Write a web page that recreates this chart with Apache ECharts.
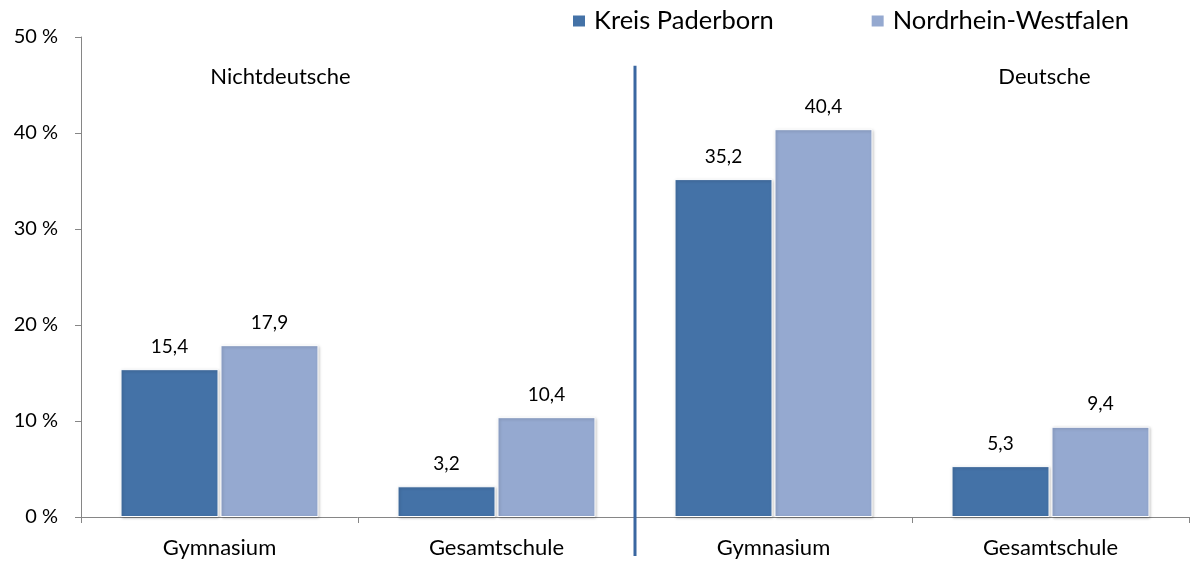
<!DOCTYPE html>
<html>
<head>
<meta charset="utf-8">
<script src="https://cdn.jsdelivr.net/npm/echarts@6/dist/echarts.min.js"></script>
<style>
  html, body { margin: 0; padding: 0; background: #fff; }
  #main { width: 1190px; height: 562px; }
</style>
</head>
<body>
<div id="main"></div>
<script>
// Daten
var categories = ['Gymnasium', 'Gesamtschule', 'Gymnasium', 'Gesamtschule'];
var groupNames = ['Nichtdeutsche', 'Deutsche'];
var seriesNames = ['Kreis Paderborn', 'Nordrhein-Westfalen'];
var paderborn = [15.4, 3.2, 35.2, 5.3];
var nrw = [17.9, 10.4, 40.4, 9.4];

var chart = echarts.init(document.getElementById('main'));
var font = 'Lato, "Open Sans", sans-serif';

function commaLabel(p) {
  return String(p.value.toFixed(1)).replace('.', ',');
}

var barStyle = function (color) {
  return {
    color: color,
    borderColor: '#ffffff',
    borderWidth: 1,
    shadowColor: 'rgba(0,0,0,0.25)',
    shadowBlur: 3,
    shadowOffsetX: 1,
    shadowOffsetY: 1
  };
};

var labelStyle = {
  show: true,
  position: 'top',
  distance: 13,
  fontSize: 19,
  color: '#000',
  fontFamily: font,
  formatter: commaLabel
};

var option = {
  animation: false,
  textStyle: { fontFamily: font },
  color: ['#4472a7', '#95a9d0'],
  legend: {
    data: seriesNames,
    left: 566,
    top: 3,
    itemWidth: 14,
    itemHeight: 13,
    itemGap: 96,
    icon: 'rect',
    textStyle: { fontSize: 25.5, color: '#000', fontFamily: font, padding: [0, 0, 0, 3] }
  },
  grid: {
    left: 81,
    right: 1,
    top: 37,
    bottom: 45
  },
  xAxis: {
    type: 'category',
    data: categories,
    axisLine: { lineStyle: { color: '#868686', width: 1 } },
    axisTick: { show: true, length: 6, lineStyle: { color: '#868686' } },
    axisLabel: { fontSize: 22, color: '#000', margin: 20, fontFamily: font }
  },
  yAxis: {
    type: 'value',
    min: 0,
    max: 50,
    interval: 10,
    axisLine: { show: true, lineStyle: { color: '#868686', width: 1 } },
    axisTick: { show: true, length: 6, lineStyle: { color: '#868686' } },
    splitLine: { show: false },
    axisLabel: {
      formatter: '{value} %',
      fontSize: 20,
      color: '#000',
      margin: 23,
      fontFamily: font
    }
  },
  series: [
    {
      name: seriesNames[0],
      type: 'bar',
      data: paderborn,
      barWidth: 98,
      barGap: '2%',
      itemStyle: barStyle('#4472a7'),
      label: labelStyle
    },
    {
      name: seriesNames[1],
      type: 'bar',
      data: nrw,
      barWidth: 98,
      itemStyle: barStyle('#95a9d0'),
      label: labelStyle
    }
  ]
};

chart.setOption(option);

// Trennlinie und Gruppenbeschriftung über die Achsen berechnen
var xMid = (chart.convertToPixel({ xAxisIndex: 0 }, 1) + chart.convertToPixel({ xAxisIndex: 0 }, 2)) / 2;
var xFirst = chart.convertToPixel({ xAxisIndex: 0 }, 0);
var xLast = chart.convertToPixel({ xAxisIndex: 0 }, 3);
var yTop = chart.convertToPixel({ yAxisIndex: 0 }, 46.8);

chart.setOption({
  graphic: [
    {
      type: 'line',
      shape: { x1: xMid, y1: yTop - 2, x2: xMid, y2: 556 },
      style: { stroke: '#3a67a1', lineWidth: 3 },
      z: 100
    },
    {
      type: 'text',
      x: xFirst + 61,
      y: 77,
      style: {
        text: groupNames[0],
        fontSize: 22,
        fontFamily: font,
        fill: '#000',
        align: 'center',
        verticalAlign: 'middle'
      }
    },
    {
      type: 'text',
      x: xLast - 6,
      y: 77,
      style: {
        text: groupNames[1],
        fontSize: 22,
        fontFamily: font,
        fill: '#000',
        align: 'center',
        verticalAlign: 'middle'
      }
    }
  ]
});
</script>
</body>
</html>
